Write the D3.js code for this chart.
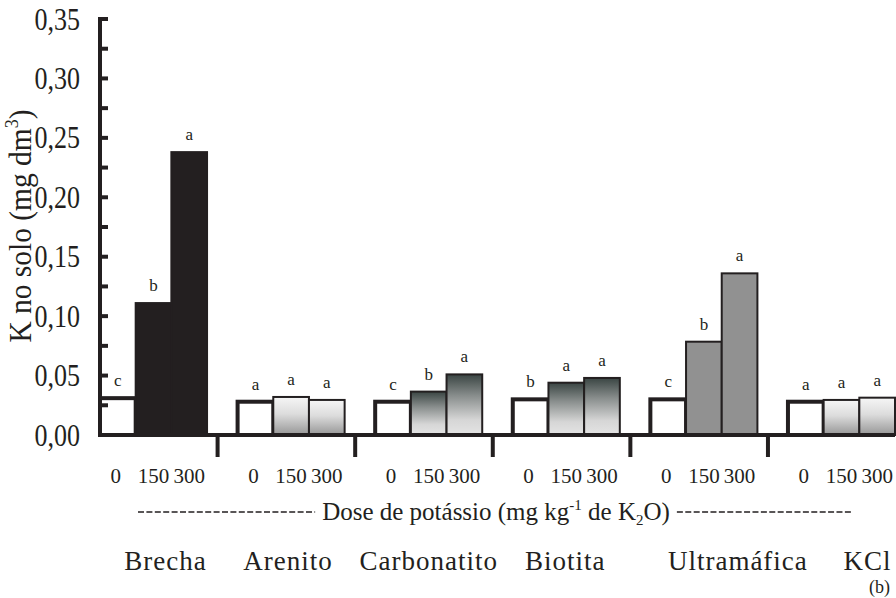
<!DOCTYPE html>
<html>
<head>
<meta charset="utf-8">
<script src="https://cdn.jsdelivr.net/npm/d3@7"></script>
<style>
  html, body { margin: 0; padding: 0; background: #fff; }
  svg { display: block; font-family: "Liberation Serif", "Times New Roman", serif; }
</style>
</head>
<body>
<svg id="chart" width="896" height="598"></svg>
<script>
// data
const groups = ['Brecha', 'Arenito', 'Carbonatito', 'Biotita', 'Ultramáfica', 'KCl'];
const doses = ['0', '150', '300'];
const dose0 = [0.031, 0.028, 0.028, 0.030, 0.030, 0.028];
const dose150 = [0.111, 0.032, 0.0365, 0.044, 0.0785, 0.0295];
const dose300 = [0.238, 0.0295, 0.051, 0.048, 0.136, 0.0314];
const letters0 = ['c', 'a', 'c', 'b', 'c', 'a'];
const letters150 = ['b', 'a', 'b', 'a', 'b', 'a'];
const letters300 = ['a', 'a', 'a', 'a', 'a', 'a'];
const yTicks = [0, 0.05, 0.1, 0.15, 0.2, 0.25, 0.3, 0.35];
const yMinorTicks = [0.025, 0.075, 0.125, 0.175, 0.225, 0.275, 0.325];

const series = [dose0, dose150, dose300];
const letterSets = [letters0, letters150, letters300];
const rows = [];
groups.forEach((g, gi) => {
  doses.forEach((d, di) => {
    rows.push({ group: g, gi: gi, dose: d, di: di, value: series[di][gi], letter: letterSets[di][gi] });
  });
});

const svg = d3.select('#chart');
const ink = '#231f20';

const y = d3.scaleLinear().domain([0, 0.35]).range([435, 19]);
const x0 = d3.scaleBand().domain(groups).range([100, 895]).paddingInner(0.222).paddingOuter(0);
const x1 = d3.scaleBand().domain(doses).range([0, x0.bandwidth()]);

// gradients
const defs = svg.append('defs');
const light = defs.append('linearGradient').attr('id', 'lightTop')
  .attr('x1', 0).attr('y1', 0).attr('x2', 0).attr('y2', 1);
light.append('stop').attr('offset', '0%').attr('stop-color', '#f6f6f6');
light.append('stop').attr('offset', '45%').attr('stop-color', '#dcdcdc');
light.append('stop').attr('offset', '100%').attr('stop-color', '#969696');

const dark = defs.append('linearGradient').attr('id', 'darkTop')
  .attr('x1', 0).attr('y1', 0).attr('x2', 0).attr('y2', 1);
dark.append('stop').attr('offset', '0%').attr('stop-color', '#3a4543');
dark.append('stop').attr('offset', '35%').attr('stop-color', '#888d8c');
dark.append('stop').attr('offset', '75%').attr('stop-color', '#d6d6d6');
dark.append('stop').attr('offset', '100%').attr('stop-color', '#e4e4e4');

const groupStyle = ['solid', 'light', 'dark', 'dark', 'gray', 'light'];
function barFill(d) {
  if (d.di === 0) return '#ffffff';
  const s = groupStyle[d.gi];
  if (s === 'solid') return ink;
  if (s === 'gray') return '#919191';
  if (s === 'light') return 'url(#lightTop)';
  return 'url(#darkTop)';
}

// bars
svg.append('g')
  .selectAll('rect')
  .data(rows)
  .join('rect')
  .attr('x', d => x0(d.group) + x1(d.dose))
  .attr('y', d => y(d.value))
  .attr('width', x1.bandwidth())
  .attr('height', d => y(0) - y(d.value))
  .attr('fill', barFill)
  .attr('stroke', ink)
  .attr('stroke-width', d => d.di === 0 ? 4 : 2);

// significance letters
svg.append('g')
  .selectAll('text')
  .data(rows)
  .join('text')
  .attr('x', d => x0(d.group) + x1(d.dose) + x1.bandwidth() / 2)
  .attr('y', d => y(d.value) - 12)
  .attr('text-anchor', 'middle')
  .attr('font-size', 17)
  .attr('fill', ink)
  .text(d => d.letter);

// baseline and group separators
svg.append('line')
  .attr('x1', 100).attr('x2', 895)
  .attr('y1', y(0)).attr('y2', y(0))
  .attr('stroke', ink).attr('stroke-width', 4);

svg.append('g')
  .selectAll('line')
  .data(groups.slice(1))
  .join('line')
  .attr('x1', d => x0(d) - 20).attr('x2', d => x0(d) - 20)
  .attr('y1', y(0)).attr('y2', 457)
  .attr('stroke', ink).attr('stroke-width', 4);

// y axis
const yAxis = svg.append('g');
yAxis.append('line')
  .attr('x1', 100).attr('x2', 100)
  .attr('y1', y(0.35) - 2).attr('y2', y(0) + 2)
  .attr('stroke', ink).attr('stroke-width', 4);
yAxis.selectAll('line.tick')
  .data(yTicks.concat(yMinorTicks))
  .join('line')
  .attr('class', 'tick')
  .attr('x1', 100).attr('x2', 108)
  .attr('y1', d => y(d)).attr('y2', d => y(d))
  .attr('stroke', ink).attr('stroke-width', 4);

const fmt = d => d3.format('.2f')(d).replace('.', ',');
yAxis.selectAll('text')
  .data(yTicks)
  .join('text')
  .attr('transform', d => `translate(80,${y(d)}) scale(0.84,1)`)
  .attr('dy', '0.34em')
  .attr('text-anchor', 'end')
  .attr('font-size', 31)
  .attr('fill', ink)
  .text(fmt);

// y title
const yTitle = svg.append('text')
  .attr('transform', 'translate(31,226) rotate(-90) scale(0.95,1)')
  .attr('text-anchor', 'middle')
  .attr('font-size', 31)
  .attr('fill', ink);
yTitle.append('tspan').text('K no solo (mg dm');
yTitle.append('tspan').attr('font-size', 19).attr('dy', -13).text('3');
yTitle.append('tspan').attr('dy', 13).text(')');

// dose labels under each bar
svg.append('g')
  .selectAll('text')
  .data(rows)
  .join('text')
  .attr('x', d => x0(d.group) + x1(d.dose) + x1.bandwidth() / 2 - (d.di === 0 ? 2 : 0))
  .attr('y', 483)
  .attr('text-anchor', 'middle')
  .attr('font-size', 21)
  .attr('fill', ink)
  .text(d => d.dose);

// dose axis title with dashed leaders
const doseTitle = svg.append('text')
  .attr('x', 496)
  .attr('y', 520)
  .attr('text-anchor', 'middle')
  .attr('font-size', 25)
  .attr('fill', ink);
doseTitle.append('tspan').text('Dose de potássio (mg kg');
doseTitle.append('tspan').attr('font-size', 15).attr('dy', -10).text('-1');
doseTitle.append('tspan').attr('dy', 10).text(' de K');
doseTitle.append('tspan').attr('font-size', 15).attr('dy', 5).text('2');
doseTitle.append('tspan').attr('dy', -5).text('O)');

const tb = doseTitle.node().getBBox();
svg.append('line')
  .attr('x1', 138).attr('x2', tb.x - 7)
  .attr('y1', 512).attr('y2', 512)
  .attr('stroke', ink).attr('stroke-width', 1.6)
  .attr('stroke-dasharray', '6,2.4');
svg.append('line')
  .attr('x1', tb.x + tb.width + 7).attr('x2', 852)
  .attr('y1', 512).attr('y2', 512)
  .attr('stroke', ink).attr('stroke-width', 1.6)
  .attr('stroke-dasharray', '6,2.4');

// material names
const nameShift = [12, -3, 0, -1, 34, 26];
svg.append('g')
  .selectAll('text')
  .data(groups)
  .join('text')
  .attr('x', (d, i) => x0(d) + x0.bandwidth() / 2 + nameShift[i])
  .attr('y', 570)
  .attr('text-anchor', 'middle')
  .attr('font-size', 27)
  .attr('letter-spacing', 1)
  .attr('fill', ink)
  .text(d => d);

svg.append('text')
  .attr('x', 869)
  .attr('y', 593)
  .attr('font-size', 18)
  .attr('fill', ink)
  .text('(b)');
</script>
</body>
</html>
